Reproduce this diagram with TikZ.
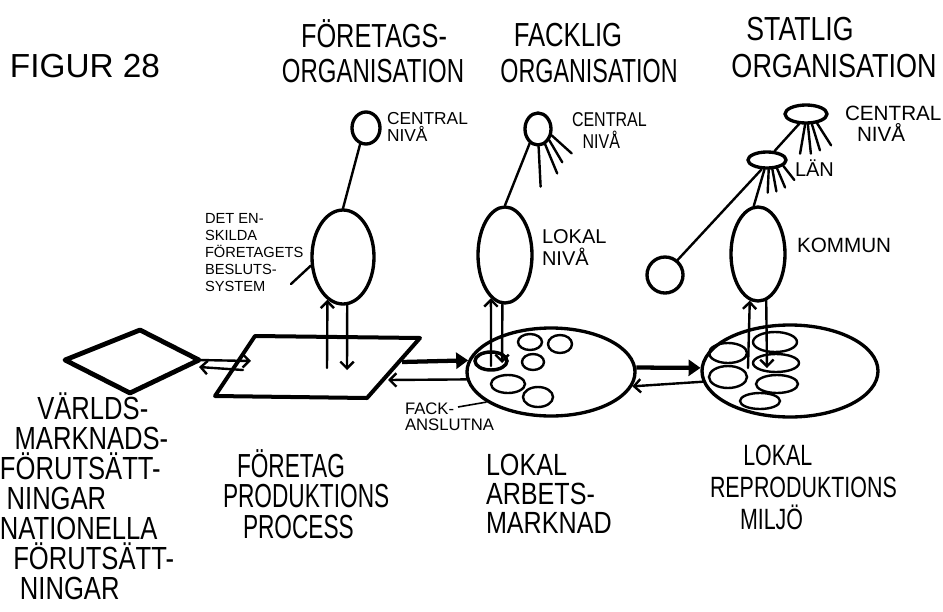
\documentclass[tikz,border=0pt]{standalone}
\usepackage{fontspec}
\setmainfont{Liberation Sans}
\usetikzlibrary{shapes.geometric,arrows.meta}
\newcommand\hf[3]{\fontspec[FakeStretch=#3]{Liberation Sans}\fontsize{#1}{#2}\selectfont}
\begin{document}
\begin{tikzpicture}[x=0.75pt,y=-0.75pt,
  org/.style={ellipse, draw, line width=2.5pt, inner sep=0pt},
  cell/.style={ellipse, draw, line width=1.8pt, inner sep=0pt},
  ln/.style={line width=1.8pt, line cap=round, line join=round},
  shp/.style={line width=3pt, line cap=round, line join=round},
  barb/.style={ln, -{Straight Barb[length=5pt,width=10pt]}},
  fat/.style={line width=3.2pt, -{Triangle[length=9pt,width=12pt]}},
  lbl/.style={inner sep=0pt, outer sep=0pt, text=black}
]
\useasboundingbox[fill=white] (0,0) rectangle (943,611);

% ---------------- headings
\node[lbl, font=\hf{25}{30}{1.0}] (fig) at (85,66) {FIGUR 28};
\node[lbl, font=\hf{25}{30}{0.76}] (h1a) at (374,34) {FÖRETAGS-};
\node[lbl, font=\hf{25}{30}{0.72}] (h1b) at (373,71) {ORGANISATION};
\node[lbl, font=\hf{25}{30}{0.77}] (h2a) at (568,35) {FACKLIG};
\node[lbl, font=\hf{25}{30}{0.7}] (h2b) at (589,71) {ORGANISATION};
\node[lbl, font=\hf{25}{30}{0.8}] (h3a) at (800,29) {STATLIG};
\node[lbl, font=\hf{25}{30}{0.81}] (h3b) at (834,66) {ORGANISATION};

% ---------------- företagsorganisation
\node[org, minimum width=21pt, minimum height=24pt] (fc) at (366,128) {};
\node[org, minimum width=46.5pt, minimum height=70.5pt] (fb) at (343,257) {};
\draw[ln] (fc.250) -- (fb.north);
\node[lbl, anchor=north west, align=left, font=\hf{13}{13}{1.0}] (fcl) at (387,112) {CENTRAL\\NIVÅ};
\node[lbl, anchor=north west, align=left, font=\hf{11}{12.75}{1.0}] (dl) at (205,213)
  {DET EN-\\SKILDA\\FÖRETAGETS\\BESLUTS-\\SYSTEM};
\coordinate (dlx) at (291,284);
\draw[ln] (dlx) -- (fb.-165);

% ---------------- facklig organisation
\node[org, minimum width=19.5pt, minimum height=24pt] (kc) at (538,129) {};
\node[org, minimum width=40.5pt, minimum height=72pt] (kl) at (505,255) {};
\draw[ln] (kc.240) -- (kl.north);
\draw[ln] (kc.-88) -- ++(2,40);
\draw[ln] (kc.-65) -- ++(12,29);
\draw[ln] (kc.-45) -- ++(13,22);
\draw[ln] (kc.-25) -- ++(20,18);
\node[lbl, anchor=north west, align=left, font=\hf{15}{16}{0.8}] (kcl) at (572,113) {CENTRAL\\\hspace*{8pt}NIVÅ};
\node[lbl, anchor=north west, align=left, font=\hf{15}{16.5}{1.0}] (kll) at (542,230) {LOKAL\\NIVÅ};

% ---------------- statlig organisation
\node[org, minimum width=31.5pt, minimum height=13.5pt] (sc) at (806,114) {};
\node[org, minimum width=28.5pt, minimum height=12pt] (lan) at (767,160) {};
\node[org, minimum width=40.5pt, minimum height=70.5pt] (ko) at (758,254) {};
\node[org, minimum width=27pt, minimum height=27pt] (sm) at (665,275) {};
\draw[ln] (sc.-125) -- (lan.50);
\draw[ln] (sc.-95) -- ++(-5,29);
\draw[ln] (sc.-80) -- ++(3,29);
\draw[ln] (sc.-60) -- ++(8,26);
\draw[ln] (sc.-40) -- ++(14,22);
\draw[ln] (lan.-105) -- (ko.95);
\draw[ln] (lan.-120) -- (sm.50);
\draw[ln] (lan.-80) -- ++(-1,23);
\draw[ln] (lan.-60) -- ++(4,22);
\draw[ln] (lan.-40) -- ++(8,19);
\draw[ln] (lan.-20) -- ++(11,14);
\node[lbl, anchor=north west, align=left, font=\hf{15.5}{16}{1.0}] (scl) at (845,106) {CENTRAL\\\hspace*{9pt}NIVÅ};
\node[lbl, anchor=north west, font=\hf{15}{16}{1.0}] (lanl) at (795,160) {LÄN};
\node[lbl, anchor=north west, font=\hf{15.5}{16}{1.0}] (kol) at (797,238) {KOMMUN};

% ---------------- bottom row shapes
\coordinate (dL) at (65,360);
\coordinate (dT) at (140,330);
\coordinate (dR) at (199,360);
\coordinate (dB) at (130,393);
\draw[line width=3.6pt, line join=round] (dL) -- (dT) -- (dR) -- (dB) -- cycle;
\coordinate (pTL) at (255,336);
\coordinate (pTR) at (420,338);
\coordinate (pBR) at (367,398);
\coordinate (pBL) at (215,396);
\draw[shp] (pTL) -- (pTR) -- (pBR) -- (pBL) -- cycle;

\node[org, minimum width=126pt, minimum height=66pt] (am) at (551,372) {};
\node[org, minimum width=132pt, minimum height=69pt] (rp) at (790,371) {};

% cells in arbetsmarknad
\node[cell, line width=2.6pt, minimum width=24pt, minimum height=13.5pt] (a1) at (491,361) {};
\node[cell, minimum width=18pt, minimum height=12pt] (a2) at (530,342) {};
\node[cell, minimum width=18pt, minimum height=13.5pt] (a3) at (560,344) {};
\node[cell, minimum width=16.5pt, minimum height=12pt] (a4) at (533,362) {};
\node[cell, minimum width=25.5pt, minimum height=13.5pt] (a5) at (508,384) {};
\node[cell, minimum width=22.5pt, minimum height=15pt] (a6) at (538,397) {};
% cells in reproduktionsmiljö
\node[cell, minimum width=28.5pt, minimum height=15pt] (r1) at (728,353) {};
\node[cell, minimum width=33pt, minimum height=15pt] (r2) at (775,342) {};
\node[cell, minimum width=34.5pt, minimum height=13.5pt] (r3) at (776,363) {};
\node[cell, minimum width=28.5pt, minimum height=16.5pt] (r4) at (728,377) {};
\node[cell, minimum width=31.5pt, minimum height=13.5pt] (r5) at (777,384) {};
\node[cell, minimum width=30pt, minimum height=12pt] (r6) at (760,401) {};

% arrows diamond <-> parallelogram
\coordinate (pA) at (251,361);
\coordinate (pB) at (243,370);
\coordinate (dR2) at (199,367);
\draw[barb] (dR) -- (pA);
\draw[barb] (pB) -- (dR2);
% parallelogram <-> arbetsmarknad
\coordinate (pC) at (402,362);
\coordinate (pD) at (388,380);
\draw[fat] (pC) -- (am.172);
\draw[barb] (am.185) -- (pD);
% arbetsmarknad <-> reproduktion
\draw[fat] (am.3) -- (rp.178);
\draw[barb] (rp.187) -- (am.-10);

% vertical arrows
\coordinate (fu) at (327,368);
\coordinate (fd) at (347,370);
\draw[barb] (fu) -- (fb.-110);
\draw[barb] (fb.-85) -- (fd);
\coordinate (ku) at (491,366);
\coordinate (kd) at (502,363);
\draw[barb] (ku) -- (kl.-108);
\draw[barb] (kl.-93) -- (kd);
\coordinate (su) at (748,368);
\coordinate (sd) at (767,368);
\draw[barb] (su) -- (ko.-100);
\draw[barb] (ko.-80) -- (sd);

% fack-anslutna
\node[lbl, anchor=north west, align=left, font=\hf{12.5}{12}{1.0}] (fa) at (405,403) {FACK-\\ANSLUTNA};
\coordinate (fax) at (458,407);
\draw[line width=1.2pt] (fax) -- (am.205);

% ---------------- bottom labels
\node[lbl, anchor=north west, align=left, font=\hf{24}{22.5}{0.8}] (vm) at (0,393)
  {\hspace*{28pt}VÄRLDS-\\\hspace*{11pt}MARKNADS-\\FÖRUTSÄTT-\\\hspace*{5pt}NINGAR\\NATIONELLA\\\hspace*{10pt}FÖRUTSÄTT-\\\hspace*{15pt}NINGAR};
\node[lbl, anchor=west, align=left, font=\hf{25}{23}{0.68}] (fp) at (223,494) {\hspace*{10.5pt}FÖRETAG\\PRODUKTIONS\\\hspace*{15pt}PROCESS};
\node[lbl, anchor=west, align=left, font=\hf{23}{21.75}{0.82}] (lam) at (486,494) {LOKAL\\ARBETS-\\MARKNAD};
\node[lbl, anchor=west, align=left, font=\hf{22}{24}{0.73}] (lrm) at (710,487) {\hspace*{25pt}LOKAL\\REPRODUKTIONS\\\hspace*{22.5pt}MILJÖ};
\end{tikzpicture}
\end{document}
